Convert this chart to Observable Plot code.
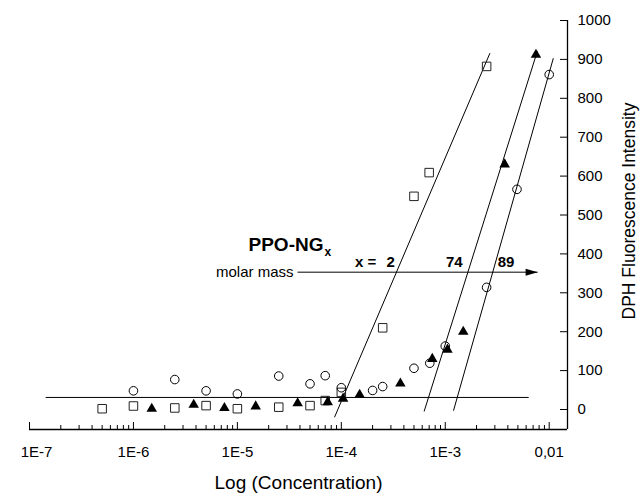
<!DOCTYPE html>
<html><head><meta charset="utf-8">
<script src="https://cdn.jsdelivr.net/npm/d3@7"></script>
<script src="https://cdn.jsdelivr.net/npm/@observablehq/plot@0.6"></script>
<style>
body{margin:0;background:#fff;}
svg{display:block;}
</style>
</head><body><div id="chart"></div>
<script>
// ---- data ----
const squareConc = [5e-7, 1e-6, 2.5e-6, 5e-6, 1e-5, 2.5e-5, 5e-5, 7e-5, 1e-4, 2.5e-4, 5e-4, 7e-4, 2.5e-3];
const squareInt  = [2, 9, 4, 10, 2, 6, 10, 23, 44, 210, 548, 609, 882];

const circleConc = [1e-6, 2.5e-6, 5e-6, 1e-5, 2.5e-5, 5e-5, 7e-5, 1e-4, 2e-4, 2.5e-4, 5e-4, 7.1e-4, 1e-3, 2.5e-3, 4.9e-3, 1e-2];
const circleInt  = [48, 77, 48, 40, 86, 66, 87, 56, 49, 59, 106, 119, 163, 314, 566, 861];

const triConc = [1.5e-6, 3.8e-6, 7.5e-6, 1.5e-5, 3.8e-5, 7.4e-5, 1.04e-4, 1.5e-4, 3.7e-4, 7.5e-4, 1.05e-3, 1.49e-3, 3.73e-3, 7.46e-3];
const triInt  = [2, 12, 4, 8, 16, 19, 28, 38, 67, 130, 154, 200, 630, 912];

// fitted lines (x1, y1, x2, y2 in data units)
const fitX1 = [8.6e-5, 6.26e-4, 1.2e-3, 1.43e-7];
const fitY1 = [-20, -5, -3, 31];
const fitX2 = [2.69e-3, 7.69e-3, 1.096e-2, 6.35e-3];
const fitY2 = [916, 921, 903, 31];

// molar-mass arrow
const arrowX = [3.79e-5, 7.74e-3];
const arrowY = 353;
const massLabels = ["x =", "2", "74", "89"];
const massLabelX = [1.71e-4, 2.98e-4, 1.22e-3, 3.85e-3];
const massLabelY = 379;

// title annotation
const titleText = "PPO-NG";
const titleSub = "x";
const titleX = 1.28e-5, titleY = 424;
const titleSubX = 6.9e-5, titleSubY = 404;

// tick values and labels
const xMajor = [1e-7, 1e-6, 1e-5, 1e-4, 1e-3, 1e-2];
const xMajorLabels = ["1E-7", "1E-6", "1E-5", "1E-4", "1E-3", "0,01"];
const xMinorMult = [2, 3, 4, 5, 6, 7, 8, 9];
const yTicks = [0, 100, 200, 300, 400, 500, 600, 700, 800, 900, 1000];

// ---- build ----
const squares = squareConc.map((x, i) => ({x, y: squareInt[i]}));
const circles = circleConc.map((x, i) => ({x, y: circleInt[i]}));
const tris = triConc.map((x, i) => ({x, y: triInt[i]}));
const fits = fitX1.map((x1, i) => ({x1, y1: fitY1[i], x2: fitX2[i], y2: fitY2[i]}));
const xMinor = [];
xMajor.forEach(d => xMinorMult.forEach(m => { if (d * m < 0.015) xMinor.push(d * m); }));
const xLabelMap = new Map(xMajor.map((d, i) => [d, xMajorLabels[i]]));
const masses = massLabels.map((t, i) => ({t, x: massLabelX[i], y: massLabelY}));

const W = 642, H = 494, mL = 29, mR = 75, mT = 20, mB = 65;
const plotW = W - mL - mR, plotH = H - mT - mB;
const FONT = '"Liberation Sans", Arial, Helvetica, sans-serif';

const arrowHead = {
  draw(ctx) { ctx.moveTo(0, 0); ctx.lineTo(-12, -3.5); ctx.lineTo(-12, 3.5); ctx.closePath(); }
};

const chart = Plot.plot({
  width: W, height: H,
  marginLeft: mL, marginRight: mR, marginTop: mT, marginBottom: mB,
  style: {fontFamily: FONT, fontSize: "15px", background: "white", color: "black", overflow: "visible"},
  x: {type: "log", domain: [1e-7, 0.015], axis: null},
  y: {domain: [-51.4, 1000], axis: null},
  marks: [
    // axes lines
    Plot.ruleY([-51.4], {stroke: "black", strokeWidth: 1.3}),
    Plot.ruleX([0.015], {stroke: "black", strokeWidth: 1.3}),
    // x ticks (inward)
    Plot.ruleX(xMajor, {insetTop: plotH - 7, stroke: "black"}),
    Plot.ruleX(xMinor, {insetTop: plotH - 4, stroke: "black"}),
    Plot.axisX({ticks: xMajor.slice(0, 1), tickSize: 0, tickPadding: 17, dx: 7, tickFormat: d => xLabelMap.get(d), fontSize: 15, label: null}),
    Plot.axisX({ticks: xMajor.slice(1), tickSize: 0, tickPadding: 17, tickFormat: d => xLabelMap.get(d), fontSize: 15, label: null}),
    // y ticks (inward, on right axis)
    Plot.ruleY(yTicks, {insetLeft: plotW - 7, stroke: "black"}),
    Plot.axisY({anchor: "right", ticks: yTicks, tickSize: 0, tickPadding: 10, tickFormat: d3.format("d"), fontSize: 15, label: null}),
    // axis titles
    Plot.text(["Log (Concentration)"], {frameAnchor: "bottom", lineAnchor: "middle", textAnchor: "middle", dy: 53, fontSize: 19}),
    Plot.text(["DPH Fluorescence Intensity"], {frameAnchor: "right", textAnchor: "middle", lineAnchor: "middle", dx: 62, dy: -14, rotate: -90, fontSize: 17.5}),
    // fit lines
    Plot.link(fits, {x1: "x1", y1: "y1", x2: "x2", y2: "y2", stroke: "black", strokeWidth: 1}),
    // data
    Plot.dot(squares, {x: "x", y: "y", symbol: "square", r: 4.8, stroke: "#222", strokeWidth: 1, fill: "none"}),
    Plot.dot(circles, {x: "x", y: "y", symbol: "circle", r: 4.3, stroke: "black", strokeWidth: 1, fill: "none"}),
    Plot.dot(tris, {x: "x", y: "y", symbol: "triangle", r: 3.9, fill: "black", stroke: "none"}),
    // molar mass arrow
    Plot.link([0], {x1: () => arrowX[0], x2: () => arrowX[1], y1: () => arrowY, y2: () => arrowY, stroke: "black"}),
    Plot.dot([0], {x: () => arrowX[1], y: () => arrowY, symbol: arrowHead, r: 5, fill: "black", stroke: "none"}),
    Plot.text(["molar mass"], {x: () => arrowX[0], y: () => arrowY, textAnchor: "end", dx: -4, fontSize: 15}),
    Plot.text(masses, {x: "x", y: "y", text: "t", fontWeight: "bold", fontSize: 15}),
    // PPO-NGx
    Plot.text([titleText], {x: () => titleX, y: () => titleY, textAnchor: "start", fontWeight: "bold", fontSize: 19}),
    Plot.text([titleSub], {x: () => titleSubX, y: () => titleSubY, textAnchor: "start", fontWeight: "bold", fontSize: 12})
  ]
});
document.getElementById("chart").appendChild(chart);
</script>
</body></html>
